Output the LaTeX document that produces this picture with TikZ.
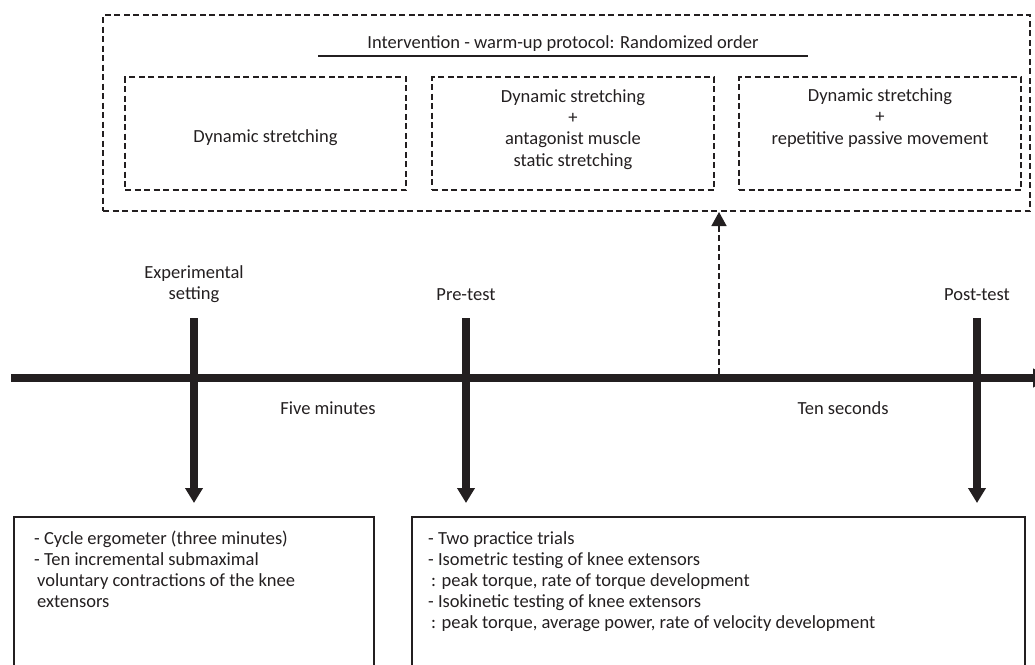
\documentclass[tikz,border=0pt]{standalone}
\usepackage{fontspec}
\setmainfont{Carlito}
\usetikzlibrary{arrows.meta}
\definecolor{ink}{RGB}{35,31,32}
\begin{document}
\begin{tikzpicture}[x=1pt,y=-1pt,
  txt/.style={font=\fontsize{18.5}{21}\selectfont, text=ink, inner sep=0pt},
  dbox/.style={draw=ink, line width=1.4pt, dash pattern=on 6pt off 3.5pt, inner sep=0pt, outer sep=0pt},
  sbox/.style={draw=ink, line width=1.3pt, inner sep=0pt, outer sep=0pt},
  thickline/.style={draw=ink, line width=8pt},
  downarrow/.style={thickline, -{Triangle[width=17pt,length=15pt]}},
  dasharrow/.style={draw=ink, line width=1.4pt, dash pattern=on 6pt off 3.5pt, -{Triangle[width=15pt,length=14pt]}}
]
\useasboundingbox (0,0) rectangle (1035,664);
\clip (0,0) rectangle (1035,664);

% top intervention block
\node[dbox, minimum width=927pt, minimum height=196pt] (outer) at (566.5,113) {};
\node[txt] (title) at (563,44) {Intervention - warm-up protocol: Randomized order};
\coordinate (ulA) at (318,56);
\coordinate (ulB) at (808,56);
\draw[draw=ink, line width=1.3pt] (ulA) -- (ulB);

\node[dbox, minimum width=281pt, minimum height=113pt] (b1) at (265.5,133.5) {};
\node[dbox, minimum width=282pt, minimum height=113pt] (b2) at (573,133.5) {};
\node[dbox, minimum width=282pt, minimum height=113pt] (b3) at (880,133.5) {};
\node[txt] (t1) at (265.5,138) {Dynamic stretching};
\node[txt, align=center, font=\fontsize{18.5}{21.3}\selectfont] (t2) at (573,129.5) {Dynamic stretching\\+\\antagonist muscle\\static stretching};
\node[txt, align=center, font=\fontsize{18.5}{21.3}\selectfont] (t3) at (880,118) {Dynamic stretching\\+\\repetitive passive movement};

% timeline
\coordinate (tlA) at (11,378);
\coordinate (tlB) at (1050,378);
\draw[thickline, -{Triangle[width=18pt,length=17pt]}] (tlA) -- (tlB);

% labels
\node[txt, align=center] (lexp) at (194,284) {Experimental\\setting};
\node[txt] (lpre) at (466,295) {Pre-test};
\node[txt] (lpost) at (977,295) {Post-test};
\node[txt] (five) at (328,408) {Five minutes};
\node[txt] (ten) at (843,408) {Ten seconds};

% vertical arrows
\coordinate (v1a) at (194,318); \coordinate (v1b) at (194,503);
\coordinate (v2a) at (466,318); \coordinate (v2b) at (466,503);
\coordinate (v3a) at (977,318); \coordinate (v3b) at (977,503);
\draw[downarrow] (v1a) -- (v1b);
\draw[downarrow] (v2a) -- (v2b);
\draw[downarrow] (v3a) -- (v3b);

% dashed arrow to intervention block
\coordinate (dA) at (719,374);
\coordinate (dB) at (719,212);
\draw[dasharrow] (dA) -- (dB);

% bottom boxes
\node[sbox, minimum width=360pt, minimum height=200pt, anchor=north west] (boxL) at (14,517) {};
\node[sbox, minimum width=613pt, minimum height=200pt, anchor=north west] (boxR) at (412,517) {};
\node[txt, align=left, anchor=north west] (textL) at ([xshift=20pt,yshift=-14pt]boxL.north west)
  {- Cycle ergometer (three minutes)\\
   - Ten incremental submaximal\\
   \hspace*{3pt}voluntary contractions of the knee\\
   \hspace*{3pt}extensors};
\node[txt, align=left, anchor=north west] (textR) at ([xshift=16pt,yshift=-14pt]boxR.north west)
  {- Two practice trials\\
   - Isometric testing of knee extensors\\
   \hspace*{3pt}: peak torque, rate of torque development\\
   - Isokinetic testing of knee extensors\\
   \hspace*{3pt}: peak torque, average power, rate of velocity development};
\end{tikzpicture}
\end{document}
